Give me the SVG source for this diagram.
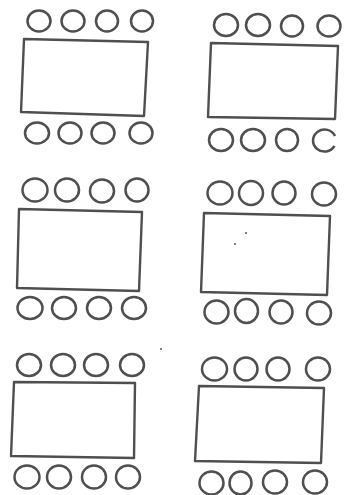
<svg xmlns="http://www.w3.org/2000/svg" width="344" height="495" viewBox="0 0 344 495">
<style>
.t{fill:#fff;stroke:#4f4f4f;stroke-width:2.4;stroke-linejoin:round}
.c{fill:#fff;stroke:#4f4f4f;stroke-width:2.5}
.d{fill:#555}
</style>
<rect width="344" height="495" fill="#fff"/>
<g id="table1">
<polygon class="t" points="24,39 148,42 144,116 21,112"/>
<ellipse class="c" cx="39" cy="21" rx="11.5" ry="10.5"/>
<ellipse class="c" cx="73" cy="21" rx="11.5" ry="10.5"/>
<ellipse class="c" cx="107" cy="21" rx="11" ry="10.5"/>
<ellipse class="c" cx="142" cy="21" rx="11" ry="10.5"/>
<ellipse class="c" cx="37" cy="133" rx="12" ry="10.5"/>
<ellipse class="c" cx="70" cy="133" rx="11.5" ry="10.5"/>
<ellipse class="c" cx="103" cy="133" rx="11.5" ry="10.5"/>
<ellipse class="c" cx="141" cy="133" rx="11.5" ry="10.5"/>
</g>
<g id="table2">
<polygon class="t" points="211,43 338,46 335,119 208,117"/>
<ellipse class="c" cx="226" cy="25" rx="12" ry="11"/>
<ellipse class="c" cx="258" cy="25" rx="12" ry="11"/>
<ellipse class="c" cx="292" cy="26" rx="11" ry="10.5"/>
<ellipse class="c" cx="329" cy="26" rx="11.5" ry="10.5"/>
<ellipse class="c" cx="221" cy="140" rx="12" ry="11"/>
<ellipse class="c" cx="253" cy="140" rx="12" ry="11"/>
<ellipse class="c" cx="287" cy="140" rx="11" ry="11"/>
<path class="c" fill="none" d="M335,136 A11.5,11 0 1 0 334.5,146"/>
</g>
<g id="table3">
<polygon class="t" points="19,209 142,212 139,291 17,288"/>
<ellipse class="c" cx="35" cy="190" rx="12.5" ry="11.5"/>
<ellipse class="c" cx="67" cy="190" rx="12" ry="11.5"/>
<ellipse class="c" cx="102" cy="191" rx="12" ry="11.5"/>
<ellipse class="c" cx="137" cy="190" rx="11.5" ry="11.5"/>
<ellipse class="c" cx="30" cy="308" rx="12.5" ry="11"/>
<ellipse class="c" cx="64" cy="308" rx="12" ry="11"/>
<ellipse class="c" cx="99" cy="308" rx="12" ry="11"/>
<ellipse class="c" cx="134" cy="308" rx="12" ry="11"/>
</g>
<g id="table4">
<polygon class="t" points="204,213 330,216 327,295 201,292"/>
<ellipse class="c" cx="220" cy="193" rx="12.5" ry="11.5"/>
<ellipse class="c" cx="251" cy="193" rx="12" ry="12"/>
<ellipse class="c" cx="284" cy="193" rx="11.5" ry="11.5"/>
<ellipse class="c" cx="324" cy="194" rx="12" ry="11.5"/>
<ellipse class="c" cx="216.5" cy="312" rx="12" ry="11.5"/>
<ellipse class="c" cx="246.5" cy="311" rx="11.5" ry="12"/>
<ellipse class="c" cx="281" cy="312" rx="11.5" ry="11.5"/>
<ellipse class="c" cx="319" cy="313" rx="12" ry="11.5"/>
<circle class="d" cx="246" cy="233" r="1"/>
<circle class="d" cx="235" cy="244" r="1"/>
</g>
<g id="table5">
<polygon class="t" points="14,382 135,383 134,458 11,456"/>
<ellipse class="c" cx="29" cy="365" rx="12" ry="11"/>
<ellipse class="c" cx="63" cy="365" rx="12" ry="11"/>
<ellipse class="c" cx="96" cy="365" rx="12" ry="11"/>
<ellipse class="c" cx="132" cy="365" rx="12" ry="11"/>
<ellipse class="c" cx="27" cy="477" rx="12.5" ry="11.5"/>
<ellipse class="c" cx="59" cy="477" rx="12" ry="11.5"/>
<ellipse class="c" cx="94" cy="477" rx="12" ry="11.5"/>
<ellipse class="c" cx="128" cy="477" rx="12" ry="11.5"/>
<circle class="d" cx="161" cy="349" r="1"/>
</g>
<g id="table6">
<polygon class="t" points="199,386 324,388 321,463 195,461"/>
<ellipse class="c" cx="214.5" cy="369" rx="12.5" ry="11.5"/>
<ellipse class="c" cx="246" cy="369" rx="11.5" ry="11.5"/>
<ellipse class="c" cx="278" cy="369" rx="11.5" ry="11.5"/>
<ellipse class="c" cx="318" cy="369" rx="12" ry="11.5"/>
<ellipse class="c" cx="211.5" cy="483" rx="12" ry="11.5"/>
<ellipse class="c" cx="240.5" cy="483" rx="11" ry="11.5"/>
<ellipse class="c" cx="275" cy="482" rx="12" ry="11.5"/>
<ellipse class="c" cx="315" cy="482" rx="12" ry="11.5"/>
</g>
<g id="connectors"></g>
</svg>
